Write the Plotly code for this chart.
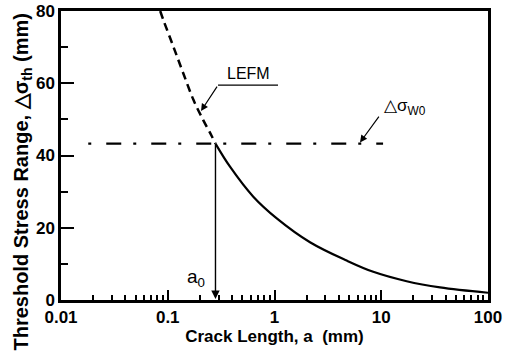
import numpy as np
import plotly.graph_objects as go

# LEFM curve, dashed part (crack length a in mm, threshold stress range)
a_dash = [0.085, 0.091, 0.113, 0.14, 0.174, 0.215, 0.258, 0.28]
s_dash = [80.0, 77.5, 70.1, 62.7, 55.4, 49.8, 45.4, 43.3]
# LEFM curve, solid part
a_solid = [0.28, 0.383, 0.633, 1.05, 2.15, 4.75, 8.42, 17.3, 35.5, 100.0]
s_solid = [43.3, 36.9, 28.6, 22.6, 16.0, 10.9, 7.8, 5.2, 3.5, 2.0]
# fatigue limit line
a_w0 = [0.018, 10.4]
s_w0 = [43.3, 43.3]
a0 = 0.28
s_a0 = 43.3

x_major = [0.01, 0.1, 1, 10, 100]
x_major_text = ["0.01", "0.1", "1", "10", "100"]
x_minor = [m * d for d in [0.01, 0.1, 1, 10] for m in range(2, 10)]
y_major = [0, 20, 40, 60, 80]
y_minor = [10, 30, 50, 70]

FONT = "Arial, Liberation Sans, sans-serif"

fig = go.Figure()
fig.add_trace(go.Scatter(x=a_dash, y=s_dash, mode="lines", line=dict(color="black", width=2.5, dash="8px,5px", shape="spline"), showlegend=False))
fig.add_trace(go.Scatter(x=a_solid, y=s_solid, mode="lines", line=dict(color="black", width=2.2, shape="spline"), showlegend=False))
fig.add_trace(go.Scatter(x=a_w0, y=s_w0, mode="lines", line=dict(color="black", width=2.2, dash="3px,15px,15px,12px"), showlegend=False))

lg = np.log10
# vertical arrow a0
fig.add_annotation(x=lg(a0), y=0.3, ax=lg(a0), ay=s_a0, xref="x", yref="y", axref="x", ayref="y",
                   text="", showarrow=True, arrowhead=2, arrowsize=1.2, arrowwidth=1.4, arrowcolor="black")
fig.add_annotation(x=lg(a0) - 0.08, y=2.3, xref="x", yref="y", text="a<sub>0</sub>", showarrow=False,
                   xanchor="right", yanchor="bottom", font=dict(family=FONT, size=19, color="black"))
# LEFM label
fig.add_annotation(x=-0.248, y=62.8, xref="x", yref="y", text="LEFM", showarrow=False,
                   font=dict(family=FONT, size=16, color="black"))
fig.add_shape(type="line", x0=10 ** -0.529, x1=10 ** 0.033, y0=59.5, y1=59.5, xref="x", yref="y",
              line=dict(color="black", width=1.2))
fig.add_annotation(x=-0.6885, y=52.3, ax=-0.529, ay=59.5, xref="x", yref="y", axref="x", ayref="y",
                   text="", showarrow=True, arrowhead=2, arrowsize=1.2, arrowwidth=1.2, arrowcolor="black")
# delta sigma w0 label
fig.add_annotation(x=0.801, y=43.6, ax=0.988, ay=51.2, xref="x", yref="y", axref="x", ayref="y",
                   text="", showarrow=True, arrowhead=2, arrowsize=1.2, arrowwidth=1.2, arrowcolor="black")
fig.add_annotation(x=1.01, y=53.3, xref="x", yref="y", text="△σ<sub>W0</sub>", showarrow=False,
                   xanchor="left", yanchor="middle", font=dict(family=FONT, size=17, color="black"))
# y-axis title
fig.add_annotation(x=-0.0913, y=0.41, xref="paper", yref="paper", textangle=-90, showarrow=False,
                   text="Threshold Stress Range, △σ<sub>th</sub> (mm)", xanchor="center", yanchor="middle",
                   font=dict(family=FONT, size=20, color="black", weight="bold"))

fig.update_layout(
    width=511, height=352,
    margin=dict(l=61, r=23, t=11, b=52),
    plot_bgcolor="white", paper_bgcolor="white",
    font=dict(family=FONT, color="black"),
    showlegend=False,
)
fig.update_xaxes(
    type="log", range=[-2, 2], showgrid=False, zeroline=False, automargin=False,
    showline=True, linecolor="black", linewidth=2.5, mirror=True,
    tickmode="array", tickvals=x_major, ticktext=x_major_text,
    ticks="inside", ticklen=10, tickwidth=2, tickcolor="black",
    tickfont=dict(family=FONT, size=17, color="black", weight="bold"),
    minor=dict(tickmode="array", tickvals=x_minor, ticks="inside", ticklen=5, tickwidth=1.5, tickcolor="black", showgrid=False),
    title=dict(text="Crack Length, a  (mm)", font=dict(family=FONT, size=17, color="black", weight="bold"), standoff=2),
)
fig.update_yaxes(
    range=[0, 80], showgrid=False, zeroline=False, automargin=False,
    showline=True, linecolor="black", linewidth=2.5, mirror=True,
    tickmode="array", tickvals=y_major,
    ticks="inside", ticklen=13, tickwidth=2, tickcolor="black",
    tickfont=dict(family=FONT, size=17, color="black", weight="bold"),
    minor=dict(tickmode="array", tickvals=y_minor, ticks="inside", ticklen=7, tickwidth=2, tickcolor="black", showgrid=False),
)
fig.write_html("out.html", config={"displayModeBar": False},
               post_script="document.body.style.margin='0';document.body.style.overflow='hidden';")
